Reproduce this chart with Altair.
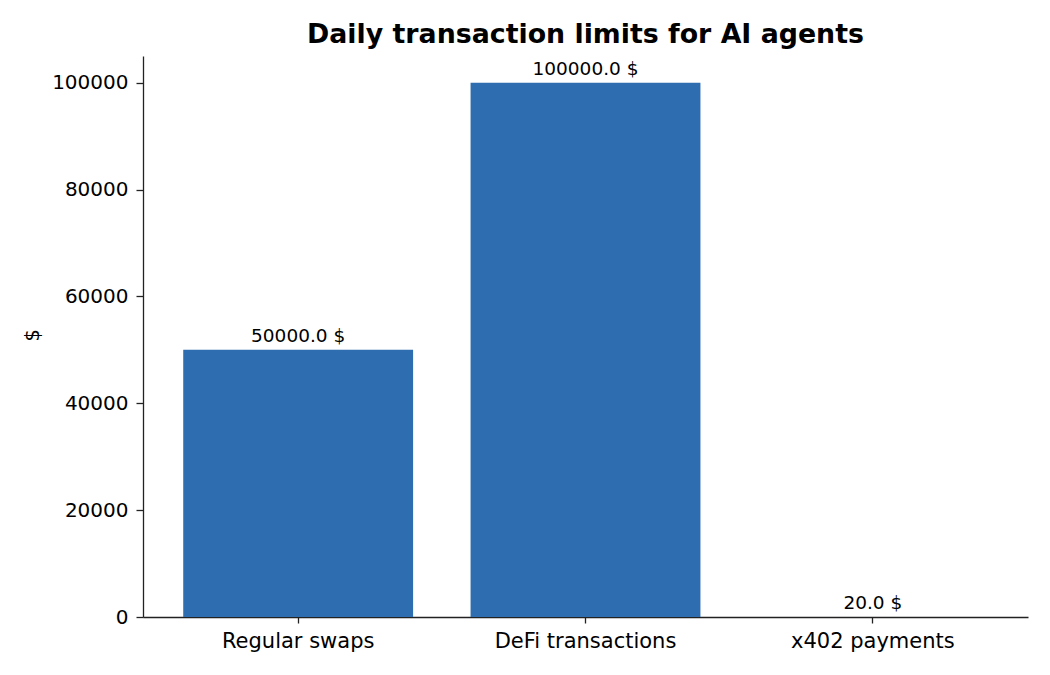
import altair as alt
import pandas as pd

categories = ["Regular swaps", "DeFi transactions", "x402 payments"]
limits = [50000.0, 100000.0, 20.0]

df = pd.DataFrame({"category": categories, "limit": limits})

FONT = "DejaVu Sans"
AXIS_COLOR = "#222222"

x_enc = alt.X(
    "category:N",
    sort=categories,
    scale=alt.Scale(paddingInner=0.2, paddingOuter=0.14),
    axis=alt.Axis(
        title=None,
        labelAngle=0,
        labelFontSize=21,
        labelFont=FONT,
        labelColor="#000000",
        labelPadding=7,
        labelLimit=1000,
        tickSize=6,
        tickColor=AXIS_COLOR,
        tickWidth=1.3,
        domainColor=AXIS_COLOR,
        domainWidth=1.3,
    ),
)

y_enc = alt.Y(
    "limit:Q",
    scale=alt.Scale(domain=[0, 105000], nice=False, zero=True),
    axis=alt.Axis(
        title="$",
        values=[0, 20000, 40000, 60000, 80000, 100000],
        format="d",
        labelFontSize=20,
        labelFont=FONT,
        labelColor="#000000",
        labelPadding=8,
        tickSize=7,
        tickColor=AXIS_COLOR,
        tickWidth=1.3,
        domainColor=AXIS_COLOR,
        domainWidth=1.3,
        grid=False,
        titleFont=FONT,
        titleFontSize=20,
        titleFontWeight="normal",
        titleColor="#000000",
        titleAngle=270,
        titleAlign="center",
        titleBaseline="middle",
        titleX=-111,
        titleY=279,
    ),
)

bars = alt.Chart(df).mark_bar(color="#2e6db0").encode(x=x_enc, y=y_enc)

labels = (
    alt.Chart(df)
    .transform_calculate(label="format(datum.limit, '.1f') + ' $'")
    .mark_text(font=FONT, fontSize=18.5, baseline="alphabetic", align="center", dy=-8, color="#000000")
    .encode(x=alt.X("category:N", sort=categories), y=alt.Y("limit:Q"), text="label:N")
)

chart = (
    alt.layer(bars, labels)
    .properties(
        width=885,
        height=561,
        background="white",
        title=alt.TitleParams(
            "Daily transaction limits for AI agents",
            font=FONT,
            fontSize=26.8,
            fontWeight="bold",
            color="#000000",
            anchor="middle",
            offset=7,
        ),
        padding={"left": 135, "top": 48, "right": 14, "bottom": 50},
        autosize=alt.AutoSizeParams(type="none"),
    )
    .configure_view(strokeWidth=0, stroke="transparent")
)

chart.save("out.html", embed_options={"renderer": "svg", "actions": False})
